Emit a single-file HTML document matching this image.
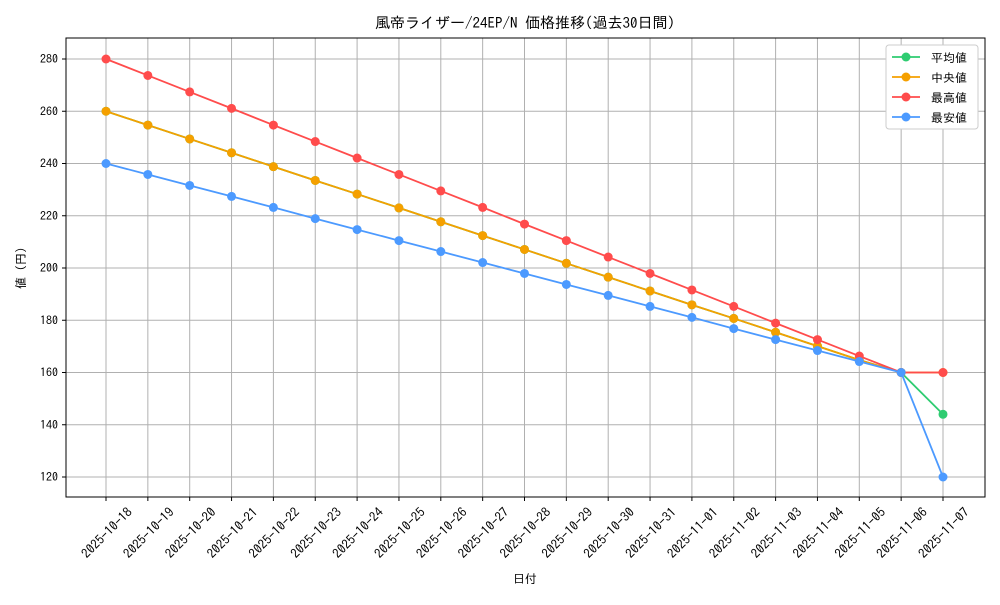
<!DOCTYPE html>
<html><head><meta charset="utf-8">
<style>
body{margin:0;background:#fff;}
svg text{font-family:"IPAGothic","Liberation Sans","Noto Sans CJK JP",sans-serif;fill:#000;}
</style></head>
<body>
<svg id="chart" width="1000" height="600" xmlns="http://www.w3.org/2000/svg">
<rect x="0" y="0" width="1000" height="600" fill="#fff"/>
<text x="525" y="28" font-size="15" text-anchor="middle">風帝ライザー/24EP/N 価格推移(過去30日間)</text>
<g id="grid"></g>
<g id="series"></g>
<rect x="66" y="38" width="919" height="459" fill="none" stroke="#000" stroke-width="1"/>
<g id="axes"></g>
<text x="525" y="583" font-size="12" text-anchor="middle">日付</text>
<text transform="translate(25,268) rotate(-90)" font-size="12" text-anchor="middle">値 (円)</text>
<g id="legend"></g>
</svg>
<script>
const categories=["2025-10-18","2025-10-19","2025-10-20","2025-10-21","2025-10-22","2025-10-23","2025-10-24","2025-10-25","2025-10-26","2025-10-27","2025-10-28","2025-10-29","2025-10-30","2025-10-31","2025-11-01","2025-11-02","2025-11-03","2025-11-04","2025-11-05","2025-11-06","2025-11-07"];
const avgValues=[260,254.7,249.4,244.1,238.8,233.5,228.3,223,217.7,212.4,207.1,201.8,196.5,191.2,185.9,180.7,175.4,170.1,164.8,160,144];
const medianValues=[260,254.7,249.4,244.1,238.8,233.5,228.3,223,217.7,212.4,207.1,201.8,196.5,191.2,185.9,180.7,175.4,170.1,164.8,160,160];
const maxValues=[280,273.7,267.4,261.1,254.7,248.4,242.1,235.8,229.5,223.2,216.8,210.5,204.2,197.9,191.6,185.3,178.9,172.6,166.3,160,160];
const minValues=[240,235.8,231.6,227.4,223.2,218.9,214.7,210.5,206.3,202.1,197.9,193.7,189.5,185.3,181.1,176.8,172.6,168.4,164.2,160,120];
const yTicks=[120,140,160,180,200,220,240,260,280];
const seriesNames=["平均値","中央値","最高値","最安値"];
const seriesColors=["#2ecc71","#f5a000","#ff4c4c","#4c9aff"];

const NS="http://www.w3.org/2000/svg";
function xPos(i){return 106+i*(943-106)/(categories.length-1);}
function yPos(v){return 477-(v-120)*(477-59)/160;}
function mk(t,a,p){const e=document.createElementNS(NS,t);for(const k in a)e.setAttribute(k,a[k]);p.appendChild(e);return e;}
const grid=document.getElementById('grid'),axes=document.getElementById('axes'),ser=document.getElementById('series'),leg=document.getElementById('legend');
categories.forEach((c,i)=>{
  const x=xPos(i);
  const g=mk('line',{x1:x,x2:x,y1:38,y2:497,stroke:'#b0b0b0','stroke-width':1},grid);
  
  
  mk('line',{x1:x,x2:x,y1:497,y2:501,stroke:'#000'},axes);
  const tx=x+27,ty=513;
  const t=mk('text',{x:tx,y:ty,'font-size':13,'text-anchor':'end',transform:`rotate(-45 ${tx} ${ty})`},axes);
  t.textContent=c;
  
  
});
yTicks.forEach(v=>{
  const y=yPos(v);
  const g=mk('line',{x1:66,x2:985,y1:y,y2:y,stroke:'#b0b0b0','stroke-width':1},grid);
  
  
  mk('line',{x1:62,x2:66,y1:y,y2:y,stroke:'#000'},axes);
  const t=mk('text',{x:58,y:y+4,'font-size':12,'text-anchor':'end'},axes);
  t.textContent=v;
  
  
});
[avgValues,medianValues,maxValues,minValues].forEach((vals,s)=>{
  const g=mk('g',{},ser);
  
  
  mk('polyline',{points:vals.map((v,i)=>xPos(i)+','+yPos(v)).join(' '),fill:'none',stroke:seriesColors[s],'stroke-width':1.8},g);
  vals.forEach((v,i)=>{
    const c=mk('circle',{cx:xPos(i),cy:yPos(v),r:4.5,fill:seriesColors[s]},g);
    
    
  });
});
const lb=mk('rect',{x:886,y:45,width:92,height:84,fill:'#fff',stroke:'#ccc',rx:3},leg);


seriesNames.forEach((n,s)=>{
  const y=57+s*20;
  const g=mk('g',{},leg);
  
  
  mk('line',{x1:892,x2:920,y1:y,y2:y,stroke:seriesColors[s],'stroke-width':1.8},g);
  mk('circle',{cx:906,cy:y,r:4.5,fill:seriesColors[s]},g);
  const t=mk('text',{x:931,y:y+5,'font-size':12},g);
  t.textContent=n;
});
</script>
</body></html>
